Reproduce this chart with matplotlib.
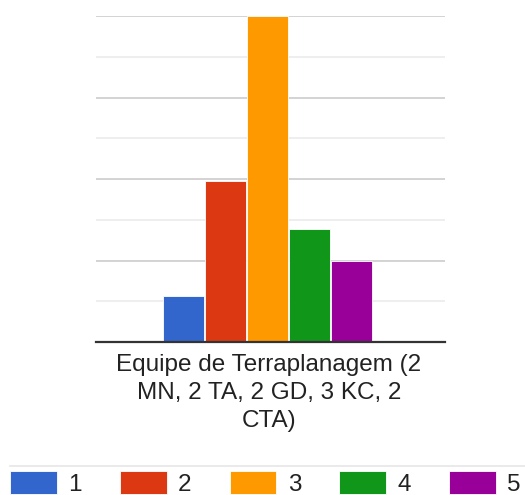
import matplotlib
matplotlib.use("Agg")
import matplotlib.pyplot as plt
from matplotlib.lines import Line2D

plt.rcParams['font.family'] = ['Liberation Sans', 'DejaVu Sans']

category = "Equipe de Terraplanagem (2\nMN, 2 TA, 2 GD, 3 KC, 2\nCTA)"
series = ["1", "2", "3", "4", "5"]
values = [1.14, 3.95, 8.0, 2.77, 1.98]
colors = ["#3366cc", "#dc3912", "#ff9900", "#109618", "#990099"]

W, H = 525, 495
fig = plt.figure(figsize=(W / 100, H / 100), dpi=100)
ax = fig.add_axes([96 / W, (H - 342) / H, (445 - 96) / W, (342 - 16) / H])

offsets = [i - (len(series) - 1) / 2 for i in range(len(series))]
bars = []
for off, v, c, s in zip(offsets, values, colors, series):
    b = ax.bar(off, v, width=0.985, color=c, edgecolor="white", linewidth=0.6,
               label=s, zorder=3)
    bars.append(b)

ax.set_xlim(-4.08, 4.23)
ax.set_ylim(0, 8)
ax.set_yticks([0, 2, 4, 6, 8])
ax.set_yticks([1, 3, 5, 7], minor=True)
ax.yaxis.grid(True, which="major", color="#cccccc", linewidth=1.2, zorder=0)
ax.yaxis.grid(True, which="minor", color="#ebebeb", linewidth=1.2, zorder=0)
ax.tick_params(axis="y", which="both", length=0, labelleft=False)
ax.set_xticks([])
for side in ["left", "right", "top"]:
    ax.spines[side].set_visible(False)
ax.spines["bottom"].set_color("#333333")
ax.spines["bottom"].set_linewidth(1.6)
ax.spines["bottom"].set_zorder(4)

ax.text((269 - 96) / (445 - 96), -0.036, category, transform=ax.transAxes,
        ha="center", va="top", fontsize=17.5, color="#222222", linespacing=1.37)

fig.add_artist(Line2D([10 / W, 1], [1 - 466 / H] * 2, color="#e6e6e6",
                      linewidth=1.2, transform=fig.transFigure))

fig.legend(handles=[b for b in bars], labels=series, ncol=5, frameon=False,
           loc="upper left", bbox_to_anchor=(10 / W, 1 - 471 / H),
           fontsize=17.5, handlelength=1.93, handleheight=1.1,
           handletextpad=0.47, columnspacing=1.56, borderpad=0, borderaxespad=0,
           labelcolor="#222222")

fig.savefig("out.png", dpi=100)
